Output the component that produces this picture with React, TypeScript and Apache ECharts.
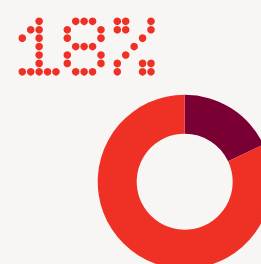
import React, { useEffect, useRef } from "react";
import * as echarts from "echarts";

const shareValue = 18;
const restValue = 100 - shareValue;
const sliceNames = ["Share", "Rest"];
const sliceColors = ["#7a0033", "#ef3025"];
const dotColor = "#ef3025";
const bgColor = "#f7f6f4";

const GLYPHS: Record<string, string[]> = {
  "1": ["..X..", ".XX..", "X.X..", "..X..", "..X..", "..X..", "XXXXX"],
  "8": [".XXX.", "X...X", "X...X", ".XXX.", "X...X", "X...X", ".XXX."],
  "%": ["XX..X", "XX..X", "...X.", "..X..", ".X...", "X..XX", "X..XX"],
};
const labelText = `${shareValue}%`;
const charOrigins = [22.3, 67.3, 117.3];

export default function App() {
  const ref = useRef<HTMLDivElement>(null);
  useEffect(() => {
    if (!ref.current) return;
    const chart = echarts.init(ref.current, null, { renderer: "svg" });
    const step = 8.42;
    const y0 = 21.3;
    const dots: number[][] = [];
    labelText.split("").forEach((ch, ci) => {
      const g = GLYPHS[ch];
      g.forEach((row, r) => {
        row.split("").forEach((c, k) => {
          if (c === "X") dots.push([charOrigins[ci] + k * step, y0 + r * step]);
        });
      });
    });
    chart.setOption({
      animation: false,
      backgroundColor: bgColor,
      grid: { left: 0, top: 0, width: 261, height: 264 },
      xAxis: { type: "value", min: 0, max: 261, show: false },
      yAxis: { type: "value", min: 0, max: 264, inverse: true, show: false },
      series: [
        {
          type: "scatter",
          data: dots,
          symbolSize: 7.6,
          itemStyle: { color: dotColor, opacity: 1 },
          silent: true,
        },
        {
          type: "pie",
          center: [184.7, 181.7],
          radius: [48, 87],
          startAngle: 90,
          clockwise: true,
          label: { show: false },
          labelLine: { show: false },
          silent: true,
          itemStyle: { borderWidth: 0 },
          data: [
            { name: sliceNames[0], value: shareValue, itemStyle: { color: sliceColors[0] } },
            { name: sliceNames[1], value: restValue, itemStyle: { color: sliceColors[1] } },
          ],
        },
      ],
    });
    return () => chart.dispose();
  }, []);
  return (
    <div
      ref={ref}
      style={{ position: "fixed", left: 0, top: 0, width: 261, height: 264 }}
    />
  );
}
